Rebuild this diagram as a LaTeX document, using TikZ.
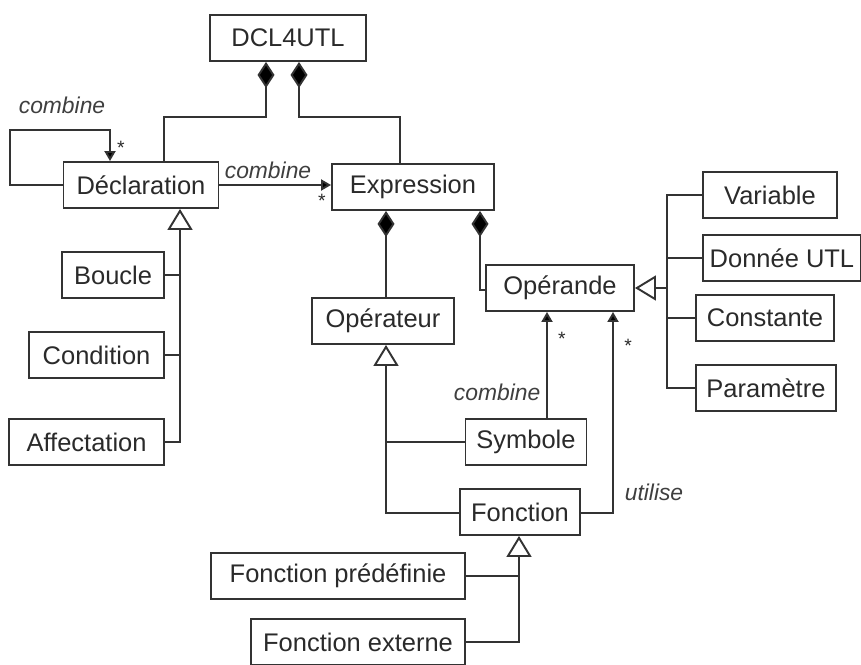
\documentclass[tikz,border=0pt]{standalone}
\usepackage{fontspec}
\setmainfont{Liberation Sans}
\usetikzlibrary{arrows.meta}
\definecolor{linegray}{HTML}{333333}
\definecolor{textgray}{HTML}{2A2A2A}
\begin{document}
\begin{tikzpicture}[x=0.02cm, y=-0.02cm, line width=1.1pt, draw=linegray,
  class node/.style={rectangle,draw=linegray,line width=1.1pt,text=textgray,minimum height=0.92cm,inner xsep=2pt,font=\fontsize{14.5}{17}\selectfont},
  role label/.style={text=textgray!90,font=\fontsize{13}{15}\selectfont\itshape,inner sep=1pt},
  mult label/.style={text=textgray,font=\fontsize{11}{12}\selectfont,inner sep=1pt},
  comp line/.style={draw=linegray,{Diamond[length=0.52cm,width=0.34cm,fill=black]}-},
  inh line/.style={draw=linegray,{Triangle[open,length=0.42cm,width=0.5cm]}-},
  assoc line/.style={draw=linegray,-{Triangle[length=0.2cm,width=0.22cm,fill=black]}}]%
  \useasboundingbox (0,0) rectangle (861,665);

  \node[class node, minimum width=3.12cm] (dcl) at (288,38) {DCL4UTL};
  \node[class node, minimum width=3.1cm] (decl) at (141,185) {Déclaration};
  \node[class node, minimum width=3.24cm] (expr) at (413,187) {Expression};

  \node[class node, minimum width=2.04cm, anchor=east] (boucle) at (165,275) {Boucle};
  \node[class node, minimum width=2.7cm, anchor=east] (cond) at (165,355) {Condition};
  \node[class node, minimum width=3.1cm, anchor=east] (affect) at (165,442) {Affectation};

  \node[class node, minimum width=2.84cm] (oprt) at (383,321) {Opérateur};
  \node[class node, minimum width=2.96cm] (opnd) at (560,288) {Opérande};

  \node[class node, minimum width=2.68cm, anchor=west] (var) at (702,195) {Variable};
  \node[class node, minimum width=3.16cm, anchor=west] (donnee) at (702,258) {Donnée UTL};
  \node[class node, minimum width=2.76cm, anchor=west] (const) at (695,318) {Constante};
  \node[class node, minimum width=2.8cm, anchor=west] (param) at (695,388) {Paramètre};

  \node[class node, minimum width=2.42cm] (symb) at (526,442) {Symbole};
  \node[class node, minimum width=2.4cm] (fonc) at (520,512) {Fonction};
  \node[class node, minimum width=5.08cm, anchor=east] (fpred) at (466,576) {Fonction prédéfinie};
  \node[class node, minimum width=4.28cm, anchor=east] (fext) at (466,642) {Fonction externe};

  % DCL4UTL compositions
  \coordinate (c1) at (266,117);
  \coordinate (c2) at (164,117);
  \coordinate (c3) at (299,117);
  \coordinate (c4) at (400,117);
  \draw[comp line] (dcl.south -| c1) -- (c1) -- (c2) -- (decl.north -| c2);
  \draw[comp line] (dcl.south -| c3) -- (c3) -- (c4) -- (expr.north -| c4);

  % combine loop on Declaration
  \coordinate (l1) at (10,130);
  \coordinate (l2) at (110,130);
  \draw[assoc line] (decl.west) -| (l1) -- (l2) -- (decl.north -| l2);
  \node[role label] (lc1) at (62,105) {combine};
  \node[mult label] (m1) at (121,148) {*};

  \draw[assoc line] (decl.east) -- (decl.east -| expr.west);
  \node[role label] (lc2) at (268,170) {combine};
  \node[mult label] (m2) at (322,201) {*};

  % Declaration subclasses
  \coordinate (g1) at (180,442);
  \draw[inh line] (decl.south -| g1) -- (g1) -- (affect.east);
  \draw[] (boucle.east) -- (boucle.east -| g1);
  \draw[] (cond.east) -- (cond.east -| g1);

  % Expression compositions
  \coordinate (e1) at (386,260);
  \coordinate (e2) at (480,290);
  \draw[comp line] (expr.south -| e1) -- (oprt.north -| e1);
  \draw[comp line] (expr.south -| e2) -- (e2) -- (opnd.west |- e2);

  % Operande subclasses
  \coordinate (v1) at (667,195);
  \draw[inh line] (opnd.east) -- (opnd.east -| v1);
  \draw[] (var.west) -- (var.west -| v1) -- (param.west -| v1) -- (param.west);
  \draw[] (donnee.west) -- (donnee.west -| v1);
  \draw[] (const.west) -- (const.west -| v1);

  % Operateur subclasses
  \coordinate (o1) at (386,513);
  \draw[inh line] (oprt.south -| o1) -- (o1) -- (fonc.west |- o1);
  \draw[] (symb.west) -- (symb.west -| o1);

  % associations to Operande
  \coordinate (s1) at (547,380);
  \draw[assoc line] (symb.north -| s1) -- (opnd.south -| s1);
  \node[role label, anchor=east] (lc3) at (543,392) {combine};
  \node[mult label] (m3) at (562,339) {*};

  \coordinate (u1) at (613,513);
  \draw[assoc line] (fonc.east |- u1) -- (u1) -- (opnd.south -| u1);
  \node[role label] (lu) at (654,492) {utilise};
  \node[mult label] (m4) at (628,346) {*};

  % Fonction subclasses
  \coordinate (f1) at (519,642);
  \draw[inh line] (fonc.south -| f1) -- (f1) -- (fext.east);
  \draw[] (fpred.east) -- (fpred.east -| f1);
\end{tikzpicture}
\end{document}
